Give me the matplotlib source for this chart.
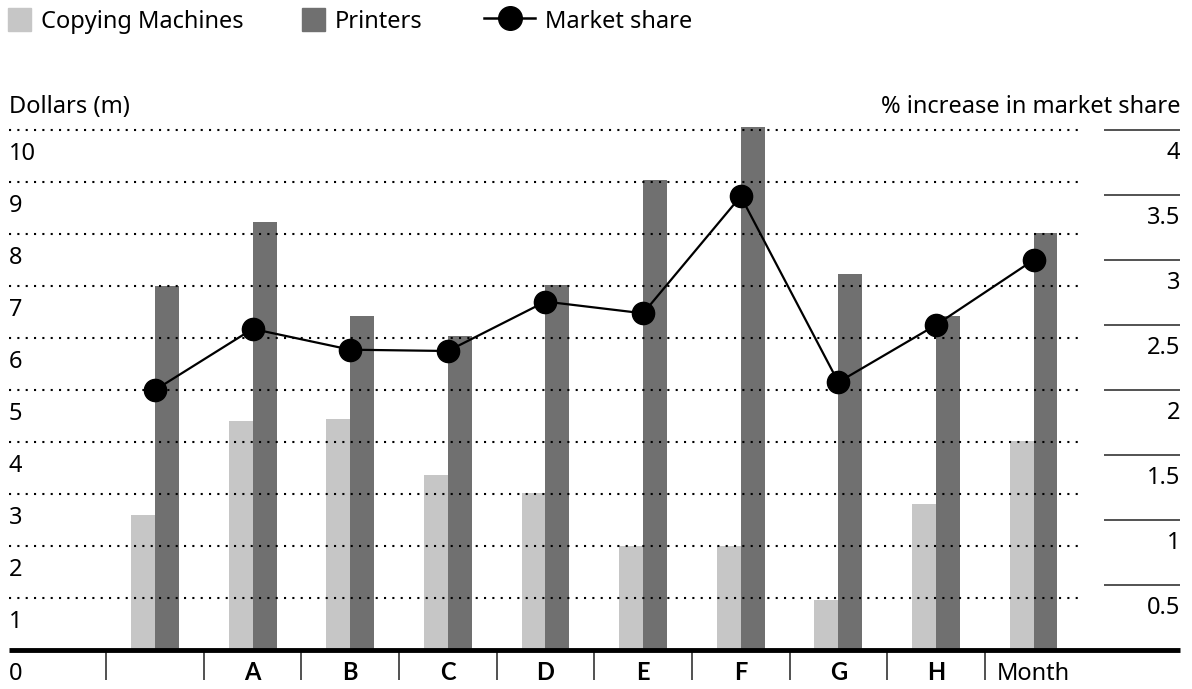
import numpy as np
import matplotlib
matplotlib.use('Agg')
import matplotlib.pyplot as plt
from matplotlib.patches import Patch
from matplotlib.lines import Line2D

plt.rcParams['font.family'] = ['Noto Sans', 'DejaVu Sans']

# data
categories = ['', 'A', 'B', 'C', 'D', 'E', 'F', 'G', 'H', 'Month']
copying = [2.6, 4.4, 4.45, 3.37, 3.02, 2.0, 2.0, 0.97, 2.8, 4.02]
printers = [7.0, 8.23, 6.42, 6.04, 7.02, 9.04, 10.05, 7.23, 6.42, 8.02]
market_share = [2.0, 2.47, 2.31, 2.3, 2.68, 2.59, 3.49, 2.06, 2.5, 3.0]
left_ticks = [1, 2, 3, 4, 5, 6, 7, 8, 9, 10]
right_ticks = [0.5, 1, 1.5, 2, 2.5, 3, 3.5, 4]

light = '#c6c6c6'
dark = '#707070'
fs = 17
em = fs * 100 / 72  # font size in pixels

fig = plt.figure(figsize=(11.92, 6.89), dpi=100)
ax = fig.add_axes([8.6 / 1192, 39 / 689, (1180 - 8.6) / 1192, 546 / 689])
ax.set_xlim(-1.5, 10.5)
ax.set_ylim(0, 10.5)
ax.axis('off')
ax2 = ax.twinx()
ax2.set_ylim(0, 4.2)
ax2.axis('off')

x = np.arange(len(categories))
bw = 0.245
ax.bar(x - bw / 2, copying, bw, color=light, zorder=1)
ax.bar(x + bw / 2, printers, bw, color=dark, zorder=1)

# dotted grid for the left axis
ax.hlines(left_ticks, -1.5, 9.5, colors='black', linestyles=[(0, (1, 3))], lw=1.5, zorder=2)
for v in left_ticks:
    ax.text(-1.5, v - 0.58, str(v), ha='left', va='baseline', fontsize=fs)
ax.text(-1.5, -0.57, '0', ha='left', va='baseline', fontsize=fs)

# base line and category separators
ax.hlines(0, -1.5, 10.5, colors='black', lw=3.5, zorder=4, clip_on=False)
ax.vlines(x - 0.5, -0.58, 0, colors='#333333', lw=1.2, clip_on=False)
for i, c in enumerate(categories):
    if len(c) == 1:
        ax.text(i, -0.57, c, ha='center', va='baseline', fontsize=fs,
                family=['Lato', 'DejaVu Sans'], fontweight='bold')
    else:
        ax.text(i, -0.57, c, ha='center', va='baseline', fontsize=fs)

# right axis: short solid lines with labels under them
ax2.hlines(right_ticks, 9.72, 10.5, colors='#444444', lw=1.3)
for v in right_ticks:
    ax2.text(10.5, v - 0.22, f'{v:g}', ha='right', va='baseline', fontsize=fs)

ax2.plot(x, market_share, color='black', lw=1.6, marker='o', ms=16, zorder=5)

ax.text(-1.5, 10.33, 'Dollars (m)', ha='left', va='baseline', fontsize=fs)
ax.text(10.5, 10.33, '% increase in market share', ha='right', va='baseline', fontsize=fs)

# legend, one entry at a time so the handles can differ in size
entries = [
    (Patch(color=light, label='Copying Machines'), 8, 23),
    (Patch(color=dark, label='Printers'), 302, 23),
    (Line2D([], [], color='black', lw=1.8, marker='o', ms=17, label='Market share'), 484, 51),
]
for h, px, w in entries:
    fig.legend(handles=[h], loc='center left', bbox_to_anchor=(px / 1192, 1 - 21 / 689),
               frameon=False, fontsize=fs, borderpad=0, borderaxespad=0,
               handlelength=w / em, handleheight=1.1, handletextpad=0.42)

fig.savefig('out.png', dpi=100)
